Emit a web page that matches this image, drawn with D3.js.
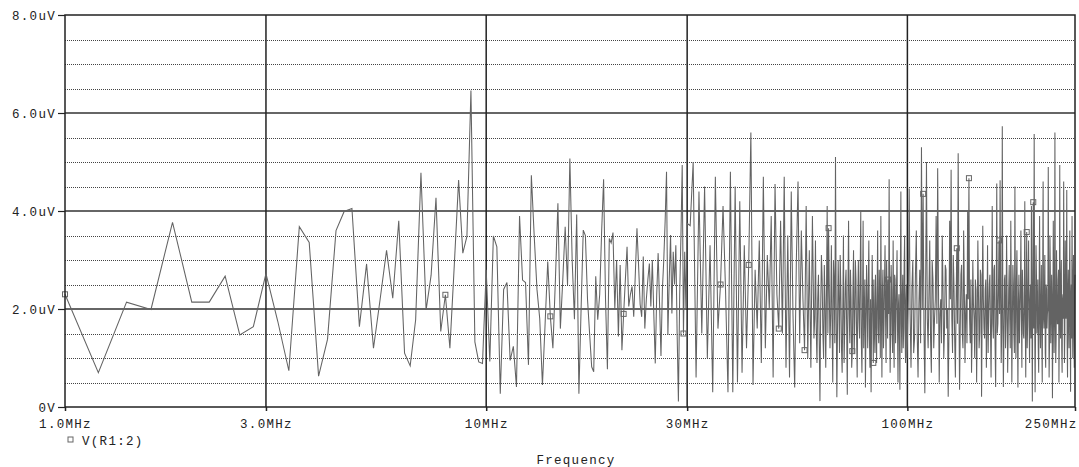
<!DOCTYPE html>
<html>
<head>
<meta charset="utf-8">
<script src="https://cdn.jsdelivr.net/npm/d3@7"></script>
<style>
  body { margin: 0; background: #fff; }
  text { font-family: "Liberation Mono", "DejaVu Sans Mono", monospace; font-size: 12.5px; letter-spacing: 1.3px; fill: #222; }
</style>
</head>
<body>
<div id="chart"></div>
<script>
// Plot constants
const WIDTH = 1079;
const HEIGHT = 467;

// Frequency sweep, MHz, and trace values, uV
// 1.0 .. 30.0 MHz, 0.2 MHz step
const bandA = [
  2.3, 0.70, 2.14, 1.99, 3.77,
  2.14, 2.14, 2.67, 1.47, 1.64,
  2.72, 1.75, 0.74, 3.68, 3.36,
  0.63, 1.38, 3.60, 3.99, 4.05,
  1.64, 2.92, 1.20, 2.2, 3.20,
  2.22, 3.80, 1.10, 0.84, 1.78,
  4.78, 1.98, 2.69, 4.27, 1.54,
  2.29, 1.20, 2.9, 4.63, 3.14,
  3.48, 6.46, 1.33, 0.92, 0.89,
  2.8, 0.93, 3.49, 3.27, 0.27,
  2.4, 2.54, 0.95, 1.24, 0.41,
  3.90, 2.59, 2.54, 0.86, 4.73,
  3.5, 2.4, 1.8, 0.45, 1.7,
  2.97, 1.85, 1.2, 2.6, 4.16,
  1.6, 2.6, 3.68, 2.49, 5.07,
  3.0, 1.79, 3.93, 0.27, 2.0,
  3.61, 3.5, 2.2, 1.5, 0.82,
  0.72, 2.67, 1.78, 2.3, 3.6,
  4.65, 2.2, 0.77, 3.44, 3.35,
  3.56, 2.0, 3.0, 1.44, 2.9,
  1.16, 1.9, 2.6, 3.27, 2.05,
  2.3, 2.46, 1.84, 2.73, 3.65,
  2.9, 2.1, 1.84, 3.07, 1.6,
  2.2, 2.6, 2.93, 2.05, 3.0,
  1.9, 0.89, 2.3, 3.14, 2.1,
  1.04, 2.4, 3.0, 3.8, 4.8,
  1.47, 2.6, 3.51, 1.91, 3.17,
  2.5, 3.3, 1.5, 0.11, 2.3,
  3.5, 4.94, 1.5, 3.17, 2.0,
  3.75
];
// 30.5 .. 60.0 MHz, 0.5 MHz step
const bandB = [
  3.7, 5.0, 0.6, 4.4, 1.5,
  4.5, 1.0, 3.3, 0.3, 4.7,
  1.6, 2.5, 4.1, 2.4, 0.3,
  4.8, 0.3, 4.5, 0.5, 4.2,
  0.7, 3.3, 1.2, 2.9, 5.6,
  0.45, 2.8, 1.6, 3.4, 0.9,
  4.7, 1.2, 3.1, 2.0, 3.9,
  0.6, 4.55, 2.3, 1.6, 3.8,
  1.5, 4.7, 0.8, 3.5, 0.6,
  4.4, 1.9, 0.4, 3.0, 4.6,
  1.3, 3.6, 2.2, 1.16, 4.1,
  1.0, 3.2, 0.8, 3.9, 1.4
];
// 60.25 .. 100 MHz, 0.25 MHz step
const bandC = [
  1.8, 3.4, 1.6, 0.9, 2.2, 2.7, 1.4, 0.12, 2.0, 3.1,
  2.6, 1.5, 1.0, 2.9, 2.1, 0.8, 2.3, 4.1, 1.5, 3.65,
  2.4, 1.2, 1.9, 3.3, 1.7, 0.5, 3.0, 2.6, 1.3, 5.1,
  2.1, 0.2, 1.6, 3.0, 2.2, 1.1, 3.1, 2.4, 1.2, 0.7,
  2.0, 3.5, 0.9, 1.6, 2.5, 2.8, 1.6, 0.25, 2.3, 3.8,
  1.9, 1.3, 2.8, 2.2, 0.8, 1.14, 2.4, 3.2, 1.1, 1.7,
  3.0, 2.6, 1.5, 0.6, 2.2, 3.0, 1.8, 1.4, 2.7, 4.0,
  1.3, 0.7, 2.0, 3.8, 1.2, 1.9, 2.6, 0.4, 1.7, 2.9,
  2.1, 1.2, 2.5, 3.4, 1.4, 0.8, 2.2, 0.3, 1.8, 3.1,
  2.0, 0.9, 2.6, 1.5, 1.1, 2.7, 1.9, 0.9, 2.3, 3.6,
  1.6, 1.3, 2.8, 2.2, 1.0, 3.9, 2.0, 0.6, 2.4, 2.8,
  1.2, 1.7, 2.6, 3.3, 1.8, 0.9, 3.0, 2.4, 1.4, 2.6,
  1.9, 4.65, 2.2, 0.7, 1.5, 2.9, 2.4, 1.5, 1.1, 3.4,
  2.0, 0.8, 2.7, 2.6, 1.3, 1.9, 2.5, 3.2, 1.6, 0.5,
  2.1, 2.3, 1.4, 0.35, 2.8, 4.4, 1.7, 1.1, 2.3, 2.7,
  1.2, 1.6, 2.9, 3.5, 1.5, 0.9, 2.2, 2.5, 1.0, 1.3
];
// 100.5 .. 250 MHz, 0.5 MHz step
const bandD = [
  2.2, 4.46, 1.9, 0.8, 2.4, 3.0, 1.1, 1.4, 2.7, 3.6,
  1.5, 0.6, 2.1, 2.8, 1.3, 5.3, 2.0, 4.35, 1.6, 0.28,
  2.5, 5.0, 1.8, 1.2, 2.3, 3.4, 1.4, 0.7, 3.0, 2.6,
  1.2, 1.8, 2.2, 3.9, 1.7, 4.87, 2.6, 0.5, 1.9, 2.2,
  1.3, 3.5, 2.4, 1.0, 1.6, 2.9, 2.8, 1.6, 2.0, 0.21,
  1.5, 3.8, 2.2, 4.84, 1.8, 1.1, 3.1, 2.5, 1.4, 0.6,
  2.1, 3.24, 1.7, 5.18, 2.3, 0.35, 1.6, 2.7, 2.9, 1.5,
  1.2, 3.6, 2.5, 0.9, 1.9, 2.3, 1.3, 4.0, 2.2, 4.67,
  1.8, 1.3, 2.6, 0.7, 1.5, 3.0, 2.1, 1.8, 1.0, 2.6,
  2.4, 0.5, 1.7, 3.4, 2.3, 1.2, 1.5, 2.8, 2.7, 0.21,
  1.9, 3.7, 2.2, 1.6, 1.4, 2.4, 2.6, 0.8, 1.8, 3.3,
  1.1, 1.9, 2.5, 2.7, 1.6, 0.6, 2.0, 4.1, 1.7, 1.4,
  2.8, 2.9, 1.3, 0.41, 2.1, 4.56, 1.5, 1.7, 2.4, 3.4,
  1.9, 4.63, 2.3, 0.9, 1.6, 5.73, 2.0, 0.41, 1.4, 2.6,
  2.7, 1.2, 1.8, 3.5, 2.2, 0.7, 1.5, 2.4, 2.9, 1.8,
  1.2, 3.8, 2.3, 0.5, 1.7, 2.9, 2.5, 1.5, 1.1, 4.5,
  2.0, 1.0, 2.6, 3.2, 1.6, 0.4, 2.2, 2.7, 1.3, 1.9,
  2.4, 3.6, 1.9, 0.8, 2.8, 2.3, 1.5, 1.4, 2.1, 4.2,
  1.7, 0.6, 2.3, 3.57, 1.2, 1.7, 2.6, 3.4, 1.8, 0.9,
  2.2, 2.5, 1.4, 4.1, 2.0, 0.11, 2.5, 4.18, 1.6, 5.57,
  2.1, 0.3, 1.5, 3.3, 2.7, 1.5, 1.9, 2.6, 1.2, 0.7,
  2.4, 3.9, 1.7, 1.2, 2.2, 2.9, 1.4, 0.5, 2.6, 4.6,
  1.8, 1.6, 2.3, 3.1, 1.1, 0.8, 2.5, 2.4, 1.6, 1.9,
  2.0, 4.9, 2.4, 0.6, 1.3, 3.5, 2.7, 1.3, 1.9, 2.7,
  2.2, 0.18, 1.5, 3.8, 2.6, 1.1, 1.8, 5.6, 2.1, 0.9,
  1.4, 3.2, 2.3, 1.7, 1.7, 2.6, 2.8, 0.5, 1.6, 4.94,
  2.0, 1.4, 2.5, 3.0, 1.2, 0.7, 2.2, 2.3, 1.8, 4.6,
  2.4, 0.9, 1.5, 3.4, 2.1, 1.8, 2.7, 4.43, 1.3, 0.6,
  2.3, 2.8, 1.7, 1.2, 2.6, 3.6, 1.9, 0.31, 2.2, 2.5,
  1.4, 3.9, 2.0, 1.0, 2.5, 3.1, 1.6, 0.8, 2.3, 2.7
];
const sweeps = [
  { start: 1.0, step: 0.2, values: bandA },
  { start: 30.5, step: 0.5, values: bandB },
  { start: 60.25, step: 0.25, values: bandC },
  { start: 100.5, step: 0.5, values: bandD },
];

// Frequencies where the trace carries a square marker
const markerFreqs = [1.0, 8.0, 14.2, 21.2, 29.4, 36.0, 42.0, 49.5, 57.0, 65.0, 74.0, 83.0, 90.0, 109, 131, 140, 165, 192, 199];

// Axis ticks
const xTicks = [1, 3, 10, 30, 100, 250];
const xTickLabels = ["1.0MHz", "3.0MHz", "10MHz", "30MHz", "100MHz", "250MHz"];
const xGridMajor = [3, 10, 30, 100];
const yTicks = [0, 2, 4, 6, 8];
const yTickLabels = ["0V", "2.0uV", "4.0uV", "6.0uV", "8.0uV"];
const yGridMajor = [2, 4, 6];
const yGridMinor = [0.5, 1, 1.5, 2.5, 3, 3.5, 4.5, 5, 5.5, 6.5, 7, 7.5];

const traceName = "V(R1:2)";
const xTitle = "Frequency";

// Build point table
const points = [];
sweeps.forEach(s => {
  s.values.forEach((v, i) => {
    points.push({ f: +(s.start + i * s.step).toFixed(2), v: v });
  });
});

const plotLeft = 65, plotRight = 1075, plotTop = 15, plotBottom = 407;

const svg = d3.select("#chart").append("svg")
  .attr("width", WIDTH)
  .attr("height", HEIGHT);

const x = d3.scaleLog().domain([1, 250]).range([plotLeft, plotRight]);
const y = d3.scaleLinear().domain([0, 8]).range([plotBottom, plotTop]);

// Minor dotted grid
svg.append("g")
  .selectAll("line")
  .data(yGridMinor)
  .join("line")
  .attr("x1", plotLeft).attr("x2", plotRight)
  .attr("y1", d => Math.round(y(d)) + 0.5)
  .attr("y2", d => Math.round(y(d)) + 0.5)
  .attr("stroke", "#444")
  .attr("stroke-width", 1)
  .attr("stroke-dasharray", "1,1");

// Major grid
svg.append("g")
  .selectAll("line")
  .data(yGridMajor)
  .join("line")
  .attr("x1", plotLeft).attr("x2", plotRight)
  .attr("y1", d => y(d)).attr("y2", d => y(d))
  .attr("stroke", "#333")
  .attr("stroke-width", 1.5);

svg.append("g")
  .selectAll("line")
  .data(xGridMajor)
  .join("line")
  .attr("x1", d => x(d)).attr("x2", d => x(d))
  .attr("y1", plotTop).attr("y2", plotBottom)
  .attr("stroke", "#222")
  .attr("stroke-width", 1.5);

// Trace
const line = d3.line()
  .x(d => x(d.f))
  .y(d => y(d.v));

svg.append("path")
  .datum(points)
  .attr("d", line)
  .attr("fill", "none")
  .attr("stroke", "#636363")
  .attr("stroke-width", 1.05)
  .attr("stroke-linejoin", "miter");

// Markers on trace
const nearest = f => points.reduce((a, b) => Math.abs(b.f - f) < Math.abs(a.f - f) ? b : a);
svg.append("g")
  .selectAll("rect")
  .data(markerFreqs.map(nearest))
  .join("rect")
  .attr("x", d => x(d.f) - 2.5)
  .attr("y", d => y(d.v) - 2.5)
  .attr("width", 5).attr("height", 5)
  .attr("fill", "none")
  .attr("stroke", "#666")
  .attr("stroke-width", 1);

// Frame
svg.append("rect")
  .attr("x", plotLeft).attr("y", plotTop)
  .attr("width", plotRight - plotLeft).attr("height", plotBottom - plotTop)
  .attr("fill", "none")
  .attr("stroke", "#222")
  .attr("stroke-width", 1.5);

// Axes
const xAxis = d3.axisBottom(x)
  .tickValues(xTicks)
  .tickFormat((d, i) => xTickLabels[i])
  .tickSize(4)
  .tickPadding(6);

const gx = svg.append("g")
  .attr("transform", `translate(0,${plotBottom})`)
  .call(xAxis);
gx.select(".domain").remove();
gx.selectAll(".tick line").attr("stroke", "#222").attr("stroke-width", 1.5);
gx.selectAll(".tick text")
  .attr("font-size", null).attr("font-family", null).attr("dy", "0.85em")
  .attr("text-anchor", (d, i) => i === xTicks.length - 1 ? "end" : "middle")
  .attr("dx", (d, i) => i === xTicks.length - 1 ? 2 : 0);

const yAxis = d3.axisLeft(y)
  .tickValues(yTicks)
  .tickFormat((d, i) => yTickLabels[i])
  .tickSize(7)
  .tickPadding(2);

const gy = svg.append("g")
  .attr("transform", `translate(${plotLeft},0)`)
  .call(yAxis);
gy.select(".domain").remove();
gy.selectAll(".tick line").attr("stroke", "#222").attr("stroke-width", 1.2);
gy.selectAll(".tick text").attr("font-size", null).attr("font-family", null);

// Legend
svg.append("rect")
  .attr("x", 68).attr("y", 437)
  .attr("width", 5).attr("height", 5)
  .attr("fill", "none")
  .attr("stroke", "#666");
svg.append("text")
  .attr("x", 82).attr("y", 445)
  .text(traceName);

// Axis title
svg.append("text")
  .attr("x", (plotLeft + plotRight) / 2 + 6)
  .attr("y", 464)
  .attr("text-anchor", "middle")
  .text(xTitle);
</script>
</body>
</html>
